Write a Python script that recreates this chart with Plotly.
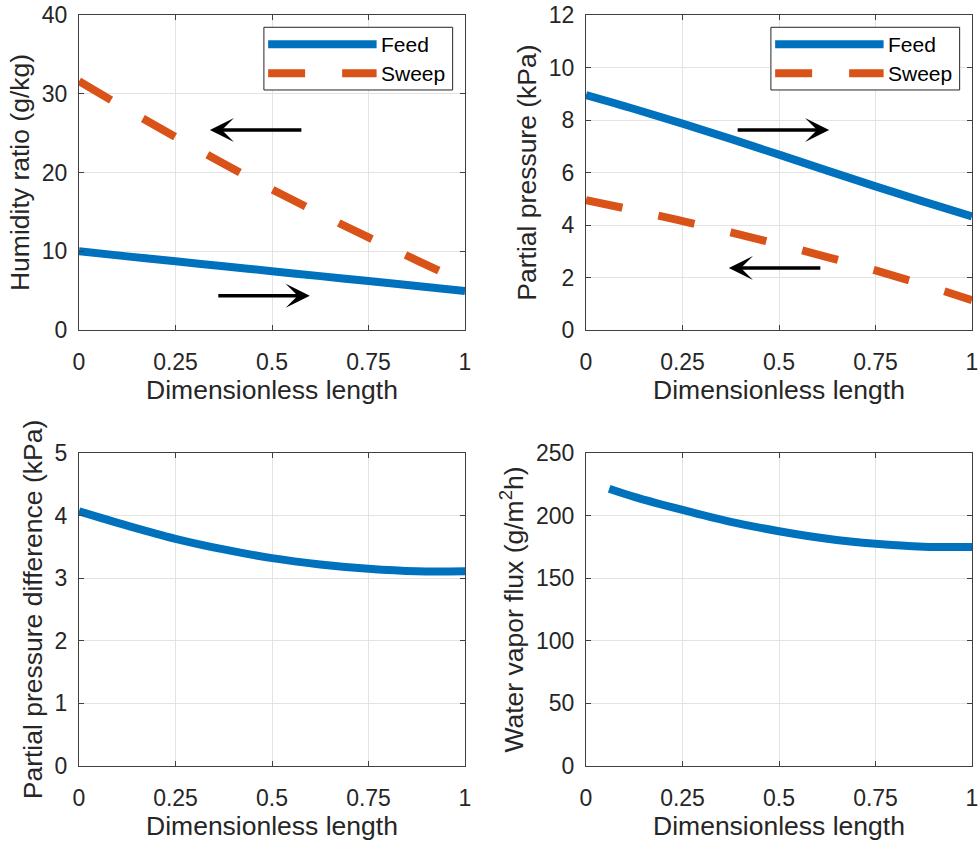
import plotly.graph_objects as go

# ---------------- data ----------------
x_len = [0, 0.125, 0.25, 0.375, 0.5, 0.625, 0.75, 0.875, 1.0]

humidity_feed = [10.0, 9.35, 8.72, 8.09, 7.47, 6.84, 6.22, 5.6, 4.95]
humidity_sweep = [31.6, 28.0, 24.5, 21.1, 17.85, 14.75, 11.75, 8.85, 6.0]

pp_feed = [8.95, 8.42, 7.86, 7.28, 6.68, 6.07, 5.47, 4.89, 4.33]
pp_sweep = [4.95, 4.56, 4.15, 3.72, 3.26, 2.78, 2.27, 1.72, 1.14]

pp_diff = [4.07, 3.84, 3.63, 3.46, 3.32, 3.22, 3.15, 3.11, 3.11]

x_flux = [0.06, 0.125, 0.25, 0.375, 0.5, 0.625, 0.75, 0.875, 1.0]
flux = [221.5, 215.0, 204.5, 195.0, 187.5, 181.5, 177.5, 175.2, 175.0]

x_ticks = [0, 0.25, 0.5, 0.75, 1]
x_ticktext = ["0", "0.25", "0.5", "0.75", "1"]
y1_ticks = [0, 10, 20, 30, 40]
y2_ticks = [0, 2, 4, 6, 8, 10, 12]
y3_ticks = [0, 1, 2, 3, 4, 5]
y4_ticks = [0, 50, 100, 150, 200, 250]

series_names = ["Feed", "Sweep"]

# ---------------- style ----------------
BLUE = "#0072BD"
ORANGE = "#D95319"
FONT = "Liberation Sans"
TXT = "#262626"
LW = 8
DASH = "37px,37px"

W, H = 978, 842
# pixel boxes of the four axes (left, right, top, bottom)
boxes = [(79, 465, 15, 330), (586, 972, 15, 330),
         (79, 465, 453, 766), (586, 972, 453, 766)]

def line_trace(x, y, name, color, xa, ya, dash=None):
    return go.Scatter(x=x, y=y, mode="lines", name=name, showlegend=False,
                      line=dict(color=color, width=LW, dash=dash, shape="spline", smoothing=1.0),
                      xaxis=xa, yaxis=ya)

fig = go.Figure()
fig.add_trace(line_trace(x_len, humidity_feed, series_names[0], BLUE, "x", "y"))
fig.add_trace(line_trace(x_len, humidity_sweep, series_names[1], ORANGE, "x", "y", DASH))
fig.add_trace(line_trace(x_len, pp_feed, series_names[0], BLUE, "x2", "y2"))
fig.add_trace(line_trace(x_len, pp_sweep, series_names[1], ORANGE, "x2", "y2", DASH))
fig.add_trace(line_trace(x_len, pp_diff, "Partial pressure difference", BLUE, "x3", "y3"))
fig.add_trace(line_trace(x_flux, flux, "Water vapor flux", BLUE, "x4", "y4"))

ytitles = ["Humidity ratio (g/kg)", "Partial pressure (kPa)",
           "Partial pressure difference (kPa)", "Water vapor flux (g/m<sup>2</sup>h)"]
yranges = [[0, 40], [0, 12], [0, 5], [0, 250]]
yticks = [y1_ticks, y2_ticks, y3_ticks, y4_ticks]

layout = dict(width=W, height=H, margin=dict(l=0, r=0, t=0, b=0, autoexpand=False),
              paper_bgcolor="white", plot_bgcolor="white",
              font=dict(family=FONT, color=TXT), showlegend=False)

axis_common = dict(showline=True, linecolor="#404040", linewidth=1, mirror="ticks",
                   ticks="inside", ticklen=5, tickcolor="#404040", tickwidth=1,
                   showgrid=True, gridcolor="#E3E3E3", gridwidth=1, zeroline=False,
                   automargin=False, ticklabeloverflow="allow",
                   tickfont=dict(family=FONT, size=23, color=TXT))

for i, (l, r, t, b) in enumerate(boxes):
    sfx = "" if i == 0 else str(i + 1)
    xd = [l / W, r / W]
    yd = [1 - b / H, 1 - t / H]
    layout["xaxis" + sfx] = dict(axis_common, domain=xd, range=[0, 1], anchor="y" + sfx,
                                 tickvals=x_ticks, ticktext=x_ticktext, ticklabelstandoff=11,
                                 title=dict(text="Dimensionless length", standoff=3,
                                            font=dict(family=FONT, size=26.5, color=TXT)))
    layout["yaxis" + sfx] = dict(axis_common, domain=yd, range=yranges[i], anchor="x" + sfx,
                                 tickvals=yticks[i], ticklabelstandoff=6,
                                 title=dict(text=ytitles[i], standoff=4,
                                            font=dict(family=FONT, size=26.5, color=TXT)))

fig.update_layout(**layout)

# ---------------- custom MATLAB-like legends ----------------
shapes = []
annotations = []
for sfx in ["", "2"]:
    xr = "x" + sfx + " domain"
    yr = "y" + sfx + " domain"
    shapes.append(dict(type="rect", xref=xr, yref=yr, x0=0.479, x1=0.968, y0=0.762, y1=0.961,
                       line=dict(color="#262626", width=1), fillcolor="white", layer="above"))
    shapes.append(dict(type="line", xref=xr, yref=yr, x0=0.49, x1=0.771, y0=0.907, y1=0.907,
                       line=dict(color=BLUE, width=LW), layer="above"))
    shapes.append(dict(type="line", xref=xr, yref=yr, x0=0.49, x1=0.771, y0=0.815, y1=0.815,
                       line=dict(color=ORANGE, width=LW, dash=DASH), layer="above"))
    for name, yy in zip(series_names, [0.907, 0.815]):
        annotations.append(dict(xref=xr, yref=yr, x=0.778, y=yy, text=name, showarrow=False,
                                xanchor="left", yanchor="middle",
                                font=dict(family=FONT, size=21, color="black")))

# ---------------- flow-direction arrows ----------------
arrow_style = dict(text="", showarrow=True, arrowhead=3, arrowsize=1.15, arrowwidth=3.5,
                   arrowcolor="black")
annotations += [
    dict(arrow_style, xref="x", yref="y", axref="x", ayref="y", x=0.339, y=25.4, ax=0.58, ay=25.4),
    dict(arrow_style, xref="x", yref="y", axref="x", ayref="y", x=0.598, y=4.35, ax=0.357, ay=4.35),
    dict(arrow_style, xref="x2", yref="y2", axref="x2", ayref="y2", x=0.63, y=7.62, ax=0.389, ay=7.62),
    dict(arrow_style, xref="x2", yref="y2", axref="x2", ayref="y2", x=0.37, y=2.36, ax=0.611, ay=2.36),
]

fig.update_layout(shapes=shapes, annotations=annotations)

# remove the browser's default 8px page margin so the figure fills the window
fig.write_html("out.html", config={"displayModeBar": False},
               post_script="document.body.style.margin='0';")
